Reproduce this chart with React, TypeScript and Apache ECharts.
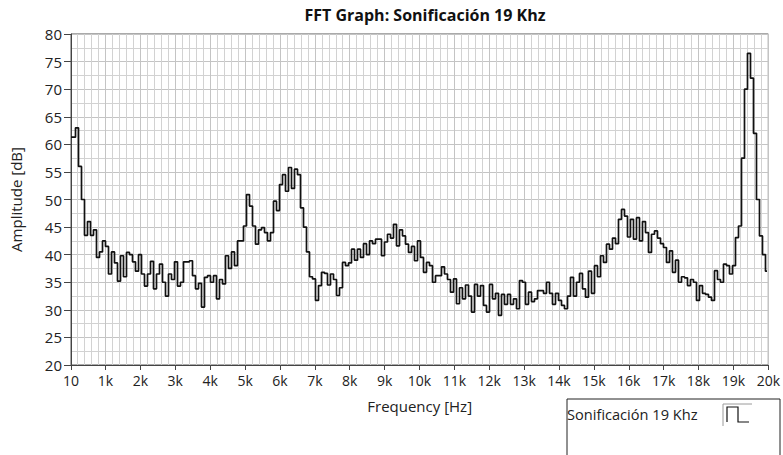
import React, { useEffect, useRef } from 'react';
import * as echarts from 'echarts';

const TITLE = 'FFT Graph: Sonificación 19 Khz';
const SERIES_NAME = 'Sonificación 19 Khz';
const X_NAME = 'Frequency [Hz]';
const Y_NAME = 'Amplitude [dB]';

const X_MIN = 10;
const X_MAX = 20000;
const Y_MIN = 20;
const Y_MAX = 80;
const Y_STEP = 5;

// FFT bins: first bin frequency and spacing (Hz)
const FREQ_START = 10;
const BIN_WIDTH = 86;

// Amplitude per bin in dB
const amplitudes = [
  61.3, 61.3, 63.0, 56.0, 50.0, 43.5, 46.0, 43.5, 44.5, 39.5,
  40.5, 42.5, 41.5, 36.5, 40.5, 38.5, 35.2, 39.8, 36.0, 40.4,
  40.0, 38.7, 37.0, 40.0, 36.5, 34.3, 36.5, 38.8, 33.8, 36.5,
  38.3, 35.0, 32.5, 36.5, 35.5, 38.7, 34.3, 35.0, 38.7, 38.7,
  38.9, 36.2, 33.8, 34.8, 30.5, 35.9, 36.2, 35.0, 36.2, 32.0,
  35.5, 34.7, 39.8, 37.5, 40.5, 38.0, 42.5, 42.5, 45.2, 50.9,
  48.8, 45.2, 41.9, 44.5, 44.9, 44.0, 42.5, 44.0, 49.7, 48.0,
  52.7, 54.5, 51.5, 55.8, 52.0, 55.5, 54.5, 48.5, 45.0, 40.5,
  36.0, 35.6, 31.7, 34.4, 36.8, 36.6, 34.5, 36.5, 35.5, 32.6,
  34.0, 38.6, 38.0, 38.5, 41.0, 39.0, 41.0, 39.5, 42.0, 40.0,
  42.5, 42.0, 42.8, 42.8, 39.8, 42.3, 43.7, 43.0, 45.5, 41.6,
  44.5, 43.4, 41.9, 40.4, 41.5, 38.9, 42.5, 39.5, 36.8, 38.6,
  38.0, 35.0, 36.2, 36.2, 37.8, 36.5, 35.5, 33.2, 35.6, 31.1,
  34.0, 32.0, 34.5, 32.5, 29.6, 34.6, 32.5, 34.4, 30.8, 29.6,
  34.6, 32.0, 33.0, 29.0, 32.8, 31.0, 32.8, 31.0, 32.0, 30.2,
  35.3, 35.0, 31.0, 33.2, 31.5, 32.0, 33.5, 33.5, 33.0, 35.0,
  33.0, 31.0, 33.0, 31.7, 30.8, 30.2, 32.5, 35.9, 32.5, 35.0,
  36.6, 33.8, 32.3, 37.0, 33.0, 38.0, 36.0, 39.8, 38.6, 41.9,
  41.0, 43.0, 42.0, 46.4, 48.2, 47.0, 43.2, 46.4, 42.8, 46.7,
  42.5, 46.0, 44.0, 40.4, 43.7, 44.3, 43.0, 42.0, 41.3, 38.6,
  40.7, 36.8, 39.0, 35.0, 36.0, 35.8, 34.4, 35.5, 35.0, 31.7,
  34.4, 33.0, 32.8, 32.3, 31.7, 37.1, 35.5, 35.0, 38.3, 38.0,
  36.5, 38.0, 43.1, 45.2, 57.5, 70.0, 76.5, 72.0, 62.0, 50.0,
  43.4, 40.0, 37.0,
];

const FONT = "'Open Sans', 'Noto Sans', sans-serif";

export default function App() {
  const ref = useRef<HTMLDivElement>(null);

  useEffect(() => {
    if (!ref.current) return;
    const chart = echarts.init(ref.current, null, { renderer: 'svg' });
    const data = amplitudes.map((a, i) => [FREQ_START + i * BIN_WIDTH, a]);

    chart.setOption({
      animation: false,
      backgroundColor: '#ffffff',
      textStyle: { fontFamily: FONT },
      title: {
        text: TITLE,
        left: 420,
        top: 2,
        textAlign: 'center',
        textStyle: { fontFamily: FONT, fontSize: 16, fontWeight: 'bold', color: '#111' },
      },
      grid: {
        left: 71,
        right: 14,
        top: 34,
        bottom: 90,
        show: true,
        borderColor: '#555',
        borderWidth: 1,
        backgroundColor: '#ffffff',
      },
      xAxis: {
        type: 'value',
        min: X_MIN,
        max: X_MAX,
        splitNumber: 20,
        name: X_NAME,
        nameLocation: 'middle',
        nameGap: 33,
        nameTextStyle: { fontFamily: FONT, fontSize: 15, color: '#222' },
        axisLine: { show: true, lineStyle: { color: '#444', width: 1 } },
        axisTick: { show: true, length: 5, lineStyle: { color: '#444' } },
        minorTick: { show: true, splitNumber: 5, length: 0, lineStyle: { color: 'rgba(0,0,0,0)' } },
        axisLabel: {
          fontFamily: FONT,
          fontSize: 14,
          color: '#222',
          margin: 8,
          showMinLabel: true,
          showMaxLabel: true,
          formatter: (v: number) => (v < 1000 ? String(Math.round(v)) : Math.round(v / 1000) + 'k'),
        },
        splitLine: { show: true, lineStyle: { color: '#c4c4c4', width: 1 } },
        minorSplitLine: { show: true, lineStyle: { color: '#d2d2d2', width: 1 } },
      },
      yAxis: {
        type: 'value',
        min: Y_MIN,
        max: Y_MAX,
        interval: Y_STEP,
        name: Y_NAME,
        nameLocation: 'middle',
        nameGap: 48,
        nameTextStyle: { fontFamily: FONT, fontSize: 15, color: '#222' },
        axisLine: { show: true, lineStyle: { color: '#444', width: 1 } },
        axisTick: { show: true, length: 7, lineStyle: { color: '#444' } },
        minorTick: { show: true, splitNumber: 2, length: 0, lineStyle: { color: 'rgba(0,0,0,0)' } },
        axisLabel: { fontFamily: FONT, fontSize: 15, color: '#222', margin: 9 },
        splitLine: { show: true, lineStyle: { color: '#c4c4c4', width: 1 } },
        minorSplitLine: { show: true, lineStyle: { color: '#d2d2d2', width: 1 } },
      },
      series: [
        {
          name: SERIES_NAME,
          type: 'line',
          step: 'middle',
          data,
          showSymbol: false,
          symbol: 'none',
          lineStyle: { color: '#111', width: 1.7 },
          clip: true,
        },
      ],
      graphic: [
        {
          type: 'rect',
          shape: { x: 567, y: 399, width: 213, height: 90 },
          style: { fill: '#ffffff', stroke: '#222', lineWidth: 1 },
        },
        {
          type: 'text',
          x: 567,
          y: 414,
          style: {
            text: SERIES_NAME,
            fontFamily: FONT,
            fontSize: 14.6,
            fill: '#222',
            verticalAlign: 'middle',
            align: 'left',
          },
        },
        {
          type: 'polyline',
          shape: { points: [[723, 426], [723, 404], [752, 404]] },
          style: { stroke: '#9a9a9a', lineWidth: 1, fill: 'none' },
        },
        {
          type: 'polyline',
          shape: { points: [[727, 422], [727, 407], [738, 407], [738, 422], [749, 422]] },
          style: { stroke: '#111', lineWidth: 1.2, fill: 'none' },
        },
      ],
    });

    return () => chart.dispose();
  }, []);

  return (
    <div
      ref={ref}
      style={{ position: 'absolute', left: 0, top: 0, width: 783, height: 455 }}
    />
  );
}
